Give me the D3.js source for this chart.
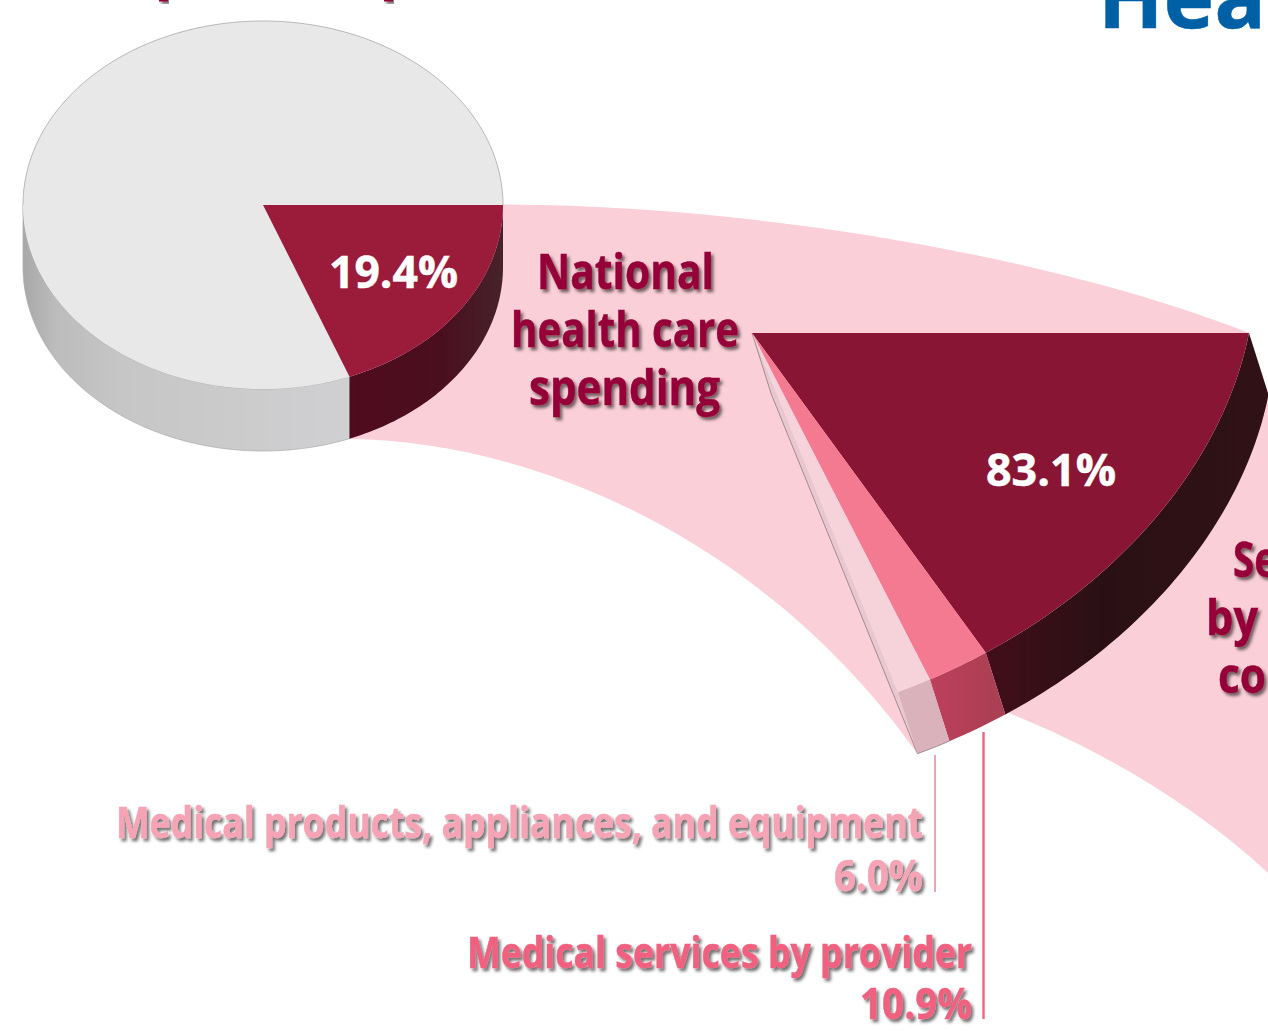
<!DOCTYPE html>
<html>
<head>
<meta charset="utf-8">
<script src="https://cdn.jsdelivr.net/npm/d3@7/dist/d3.min.js"></script>
<style>
html,body{margin:0;padding:0;background:#fff;overflow:hidden}
svg{display:block}
text{font-family:"Open Sans",sans-serif;font-weight:700}
</style>
</head>
<body>
<svg id="chart" width="1268" height="1031"></svg>
<script>
// ---- data ----
const gdpCategories = ["National health care spending", "Rest of the economy"];
const gdpShares = [19.4, 80.6];
const spendingCategories = ["Services by health care consumers", "Medical services by provider", "Medical products, appliances, and equipment"];
const spendingShares = [83.1, 10.9, 6.0];
const shareLabels = ["19.4%", "83.1%", "10.9%", "6.0%"];

// ---- layout ----
const W = 1268, H = 1031;
const svg = d3.select("#chart");
const defs = svg.append("defs");

const shadow = defs.append("filter").attr("id","shadow").attr("x","-10%").attr("y","-20%").attr("width","120%").attr("height","150%");
shadow.append("feDropShadow").attr("dx",2.5).attr("dy",3).attr("stdDeviation",1.6).attr("flood-color","#000").attr("flood-opacity",0.55);

function gradient(id, x1, x2, stops){
  const g = defs.append("linearGradient").attr("id",id).attr("gradientUnits","userSpaceOnUse")
    .attr("x1",x1).attr("x2",x2).attr("y1",0).attr("y2",0);
  stops.forEach(([o,c])=>g.append("stop").attr("offset",o).attr("stop-color",c));
}
gradient("greySide",23,350,[[0,"#a8a8a8"],[0.1,"#bcbcbc"],[0.3,"#c6c6c6"],[1,"#d0d0d2"]]);
gradient("darkSide1",349,503,[[0,"#500b1e"],[0.6,"#4a0f1f"],[1,"#46232b"]]);
gradient("darkSide2",990,1268,[[0,"#410e1a"],[0.4,"#2a1014"],[1,"#301216"]]);
gradient("midSide",935,1008,[[0,"#bc3f5b"],[1,"#a83f52"]]);

// Projections of the two pies: angle in radians -> page position
const pieA = {cx:263, cy:205, ax:240, ay:0, bx:0, by:184, dx:0, dy:62};
const pieB = {cx:752, cy:333, ax:497, ay:0, bx:-80, by:399.4, dx:19.5, dy:61.7};
const project = (p,t,ex=0) => [
  p.cx + p.ax*Math.cos(t) + p.bx*Math.sin(t) + ex*p.dx,
  p.cy + p.ay*Math.cos(t) + p.by*Math.sin(t) + ex*p.dy
];
const deg = d => d*Math.PI/180;
const arcPts = (p,t0,t1,ex=0) => {
  const n = Math.max(8, Math.ceil(Math.abs(t1-t0)/deg(1)));
  return d3.range(n+1).map(i => project(p, t0+(t1-t0)*i/n, ex));
};
const poly = d3.line().curve(d3.curveLinear);
const topFace = (p,a) => poly([[p.cx,p.cy], ...arcPts(p,a.startAngle,a.endAngle)])+"Z";
const sideFace = (p,t0,t1) => poly([...arcPts(p,t0,t1), ...arcPts(p,t1,t0,1)])+"Z";

const pieGen = d3.pie().sort(null).value(d=>d);
const gdpArcs = pieGen.startAngle(0).endAngle(deg(355))(gdpShares);
const spendArcs = pieGen.startAngle(0).endAngle(deg(64))(spendingShares);

// ---- connecting bands ----
const pink = "#facfd7";
const endB = spendArcs[2].endAngle;
const band1 = d3.path();
band1.moveTo(503,204.5);
band1.bezierCurveTo(750,205,1050,255,1249.5,333);
band1.lineTo(...project(pieB,0));
band1.lineTo(...project(pieB,endB,1));
band1.bezierCurveTo(770,545,540,441,349.5,439);
band1.closePath();
svg.append("path").attr("fill",pink).attr("d",band1.toString());
const band2 = d3.path();
band2.moveTo(1008,712.7);
band2.bezierCurveTo(1090,745,1190,800,W,873);
band2.lineTo(W,project(pieB,0,1)[1]);
band2.lineTo(...project(pieB,0,1));
band2.lineTo(...project(pieB,spendArcs[0].endAngle,1));
band2.closePath();
svg.append("path").attr("fill",pink).attr("d",band2.toString());

// ---- first pie ----
const gWedge = gdpArcs[0];
svg.append("path").attr("d",sideFace(pieA,gWedge.endAngle,Math.PI)).attr("fill","url(#greySide)").attr("stroke","#aaa").attr("stroke-width",0.7);
svg.append("path").attr("d",sideFace(pieA,0,gWedge.endAngle)).attr("fill","url(#darkSide1)");
svg.append("path").attr("d",topFace(pieA,{startAngle:gWedge.endAngle,endAngle:2*Math.PI})).attr("fill","#e8e8e8");
svg.append("path").attr("d",poly(arcPts(pieA,Math.PI,2*Math.PI))).attr("fill","none").attr("stroke","#a8a8a8").attr("stroke-width",0.8);
svg.append("path").attr("d",topFace(pieA,gWedge)).attr("fill","#9b1b3b");

// ---- second pie ----
const sideFills = ["url(#darkSide2)","url(#midSide)","#d9b2bc"];
const topFills = ["#881533","#f47a92","#f6d3db"];
svg.append("path").attr("fill","#e8c8d0")
  .attr("d",poly([[pieB.cx,pieB.cy],[pieB.cx+pieB.dx,pieB.cy+pieB.dy],project(pieB,endB,1),project(pieB,endB)])+"Z");
svg.append("path").attr("fill","none").attr("stroke","#8d7a80").attr("stroke-width",0.8)
  .attr("d",poly([[pieB.cx,pieB.cy],[pieB.cx+pieB.dx,pieB.cy+pieB.dy],project(pieB,endB,1)]));
spendArcs.forEach((a,i)=>{
  svg.append("path").attr("d",sideFace(pieB,a.startAngle,a.endAngle)).attr("fill",sideFills[i]);
  svg.append("path").attr("d",topFace(pieB,a)).attr("fill",topFills[i]);
});
svg.append("path").attr("fill","none").attr("stroke","#8d7a80").attr("stroke-width",0.8)
  .attr("d",poly(arcPts(pieB,spendArcs[1].startAngle+deg(7),endB,1)));

// ---- leader lines ----
svg.append("line").attr("x1",935).attr("x2",935).attr("y1",755).attr("y2",892).attr("stroke","#f2a0b4").attr("stroke-width",2);
svg.append("line").attr("x1",983.5).attr("x2",983.5).attr("y1",732).attr("y2",1019).attr("stroke","#ee6582").attr("stroke-width",2.4);

// ---- text ----
const maroon = "#960038";
const textRows = [
  {t:"National", x:537, y:289, w:177, s:49, c:maroon, f:1},
  {t:"health care", x:511, y:347, w:228, s:49, c:maroon, f:1},
  {t:"spending", x:529, y:405, w:191, s:49, c:maroon, f:1},
  {t:shareLabels[0], x:329, y:288, w:129, s:45, c:"#fff", f:0},
  {t:shareLabels[1], x:986, y:486, w:130, s:45, c:"#fff", f:0},
  {t:"Medical products, appliances, and equipment", x:116, y:838, w:807, s:43, c:"#f5a3b5", f:1},
  {t:shareLabels[3], x:834, y:891, w:89, s:43, c:"#f5a3b5", f:1},
  {t:"Medical services by provider", x:467, y:968, w:505, s:43, c:"#f0607f", f:1},
  {t:shareLabels[2], x:860, y:1019, w:112, s:43, c:"#f0607f", f:1},
  {t:"Se", x:1233, y:577, w:44, s:49, c:maroon, f:1},
  {t:"by", x:1206, y:635, w:52, s:49, c:maroon, f:1},
  {t:"co", x:1218, y:693, w:48, s:49, c:maroon, f:1},
  {t:"Hea", x:1098, y:28, w:168, s:86, c:"#0060a5", f:0}
];
svg.selectAll("text.row").data(textRows).enter().append("text").attr("class","row")
  .attr("x",d=>d.x).attr("y",d=>d.y).attr("font-size",d=>d.s).attr("fill",d=>d.c)
  .attr("stroke",d=>d.c).attr("stroke-width",0.5)
  .attr("textLength",d=>d.w).attr("lengthAdjust","spacingAndGlyphs")
  .attr("filter",d=>d.f?"url(#shadow)":null)
  .text(d=>d.t);

// descender remnants of the cropped heading
[[159,9],[384,9]].forEach(([x,w])=>{
  svg.append("rect").attr("x",x).attr("y",-4).attr("width",w).attr("height",5.5).attr("fill",maroon).attr("filter","url(#shadow)");
});
</script>
</body>
</html>
